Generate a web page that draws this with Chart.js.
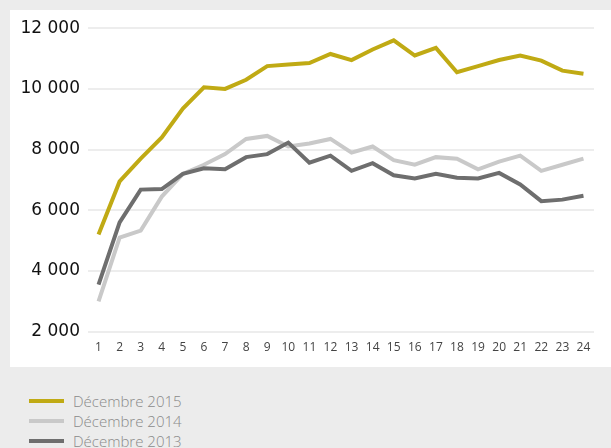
<!DOCTYPE html>
<html>
<head>
<meta charset="utf-8">
<script src="https://cdn.jsdelivr.net/npm/chart.js@4/dist/chart.umd.min.js"></script>
<style>
  html, body { margin: 0; padding: 0; }
  body { width: 611px; height: 448px; background: #ececec; position: relative; overflow: hidden; font-family: "Open Sans", sans-serif; }
  #panel { position: absolute; left: 10px; top: 10px; width: 601px; height: 357px; background: #fff; }
  #legend { position: absolute; left: 29px; top: 391px; }
  .item { height: 20px; display: flex; align-items: center; }
  .swatch { width: 35px; height: 4px; margin-right: 9px; }
  .item span { font-size: 15px; font-weight: 300; color: #8a8a8a; }
</style>
</head>
<body>
<div id="panel"><canvas id="chart"></canvas></div>
<div id="legend"></div>
<script>
const days = ["1","2","3","4","5","6","7","8","9","10","11","12","13","14","15","16","17","18","19","20","21","22","23","24"];
const dec2015 = [5200, 6950, 7700, 8400, 9350, 10050, 10000, 10300, 10750, 10800, 10850, 11150, 10950, 11300, 11600, 11100, 11350, 10550, 10750, 10950, 11100, 10930, 10600, 10500];
const dec2014 = [3000, 5100, 5330, 6450, 7200, 7500, 7850, 8350, 8450, 8100, 8200, 8350, 7900, 8100, 7650, 7500, 7750, 7700, 7350, 7600, 7800, 7300, 7500, 7700];
const dec2013 = [3550, 5600, 6680, 6700, 7200, 7380, 7350, 7750, 7850, 8230, 7570, 7800, 7300, 7550, 7150, 7050, 7200, 7070, 7050, 7230, 6850, 6300, 6350, 6480];
const yTicks = [2000, 4000, 6000, 8000, 10000, 12000];

const series = [
  { label: "Décembre 2015", data: dec2015, color: "#c0aa14" },
  { label: "Décembre 2014", data: dec2014, color: "#c9c9c9" },
  { label: "Décembre 2013", data: dec2013, color: "#6e6e6e" }
];

// legend drawn as html, stacked like the original
const legend = document.getElementById("legend");
series.forEach(s => {
  legend.innerHTML += `<div class="item"><div class="swatch" style="background:${s.color}"></div><span>${s.label}</span></div>`;
});

function fmt(v) {
  return String(v).replace(/\B(?=(\d{3})+(?!\d))/g, " ");
}

new Chart(document.getElementById("chart"), {
  type: "line",
  data: {
    labels: days,
    datasets: series.slice().reverse().map(s => ({
      label: s.label,
      data: s.data,
      borderColor: s.color,
      backgroundColor: s.color,
      borderWidth: 4,
      pointRadius: 0,
      tension: 0
    }))
  },
  options: {
    responsive: true,
    maintainAspectRatio: false,
    animation: false,
    layout: { padding: { left: 10, right: 17, top: 15, bottom: 3 } },
    plugins: { legend: { display: false }, tooltip: { enabled: false } },
    scales: {
      x: {
        offset: true,
        grid: { display: false, drawTicks: false },
        border: { display: false },
        ticks: { color: "#444", padding: 9, maxRotation: 0, autoSkip: false, font: { family: "Open Sans", size: 12 } }
      },
      y: {
        min: 2000,
        max: 12000,
        afterBuildTicks: scale => { scale.ticks = yTicks.map(v => ({ value: v })); },
        afterFit: scale => { scale.width = 68; },
        grid: { color: "#ededed", lineWidth: 2, drawTicks: false },
        border: { display: false },
        ticks: { color: "#111", padding: 8, font: { family: "DejaVu Sans", size: 17 }, callback: v => fmt(v) }
      }
    }
  }
});
</script>
</body>
</html>
